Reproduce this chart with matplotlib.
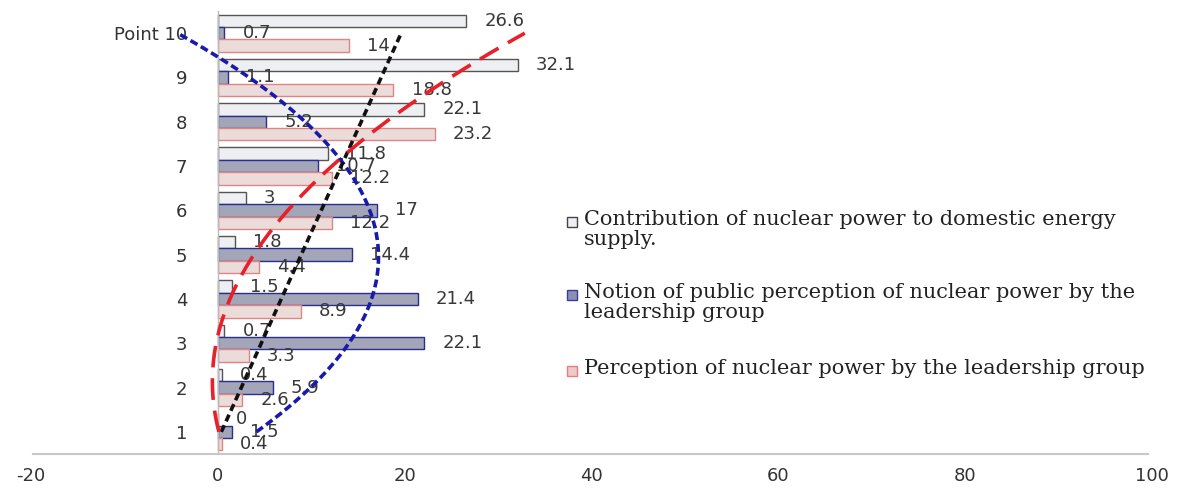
import numpy as np
import matplotlib
matplotlib.use("Agg")
import matplotlib.pyplot as plt
from matplotlib.patches import Rectangle

# ---- data ----
categories = [1, 2, 3, 4, 5, 6, 7, 8, 9, 10]
tick_labels = ["1", "2", "3", "4", "5", "6", "7", "8", "9", "Point 10"]
contribution = [0, 0.4, 0.7, 1.5, 1.8, 3, 11.8, 22.1, 32.1, 26.6]
notion = [1.5, 5.9, 22.1, 21.4, 14.4, 17, 10.7, 5.2, 1.1, 0.7]
perception = [0.4, 2.6, 3.3, 8.9, 4.4, 12.2, 12.2, 23.2, 18.8, 14]
legend_labels = [
    "Contribution of nuclear power to domestic energy\nsupply.",
    "Notion of public perception of nuclear power by the\nleadership group",
    "Perception of nuclear power by the leadership group",
]
x_ticks = [-20, 0, 20, 40, 60, 80, 100]

W, H = 1181, 490
fig = plt.figure(figsize=(W / 100, H / 100), dpi=100)
ax = fig.add_axes([31 / W, (H - 454) / H, (1152 - 31) / W, (454 - 11) / H])

y = np.array(categories, dtype=float)
bh = 0.28
label_color = "#383838"

series = [
    (contribution, +bh, "#EEEFF2", "#555555"),
    (notion, 0.0, "#A3A5B8", "#2A2E8C"),
    (perception, -bh, "#EBDCD9", "#E08585"),
]
for vals, off, fc, ec in series:
    bars = ax.barh(y + off, vals, height=bh, color=fc, edgecolor=ec,
                   linewidth=1.0, zorder=2)
    ax.bar_label(bars, labels=[f"{v:g}" for v in vals], padding=13,
                 fontsize=13, color=label_color, zorder=3)

# ---- trend lines computed from the series ----
yy = np.linspace(1, 10, 200)
c_contrib2 = np.polyfit(y, contribution, 2)
c_notion2 = np.polyfit(y, notion, 2)
c_percep1 = np.polyfit(y, perception, 1)
ax.plot(np.polyval(c_notion2, yy), yy, color="#1A1AAA", lw=2.6,
        linestyle=(0, (2.2, 1.1)), zorder=4)
ax.plot(np.polyval(c_percep1, yy), yy, color="#111111", lw=2.6,
        linestyle=(0, (2.0, 1.2)), zorder=4)
ax.plot(np.polyval(c_contrib2, yy), yy, color="#E8202A", lw=2.6,
        linestyle=(0, (6.0, 3.0)), zorder=4)

# ---- axes ----
ax.set_xlim(-20, 100)
ax.set_ylim(0.5, 10.5)
ax.set_xticks(x_ticks)
ax.set_xticklabels([str(t) for t in x_ticks])
ax.set_yticks(categories)
ax.set_yticklabels(tick_labels)
ax.tick_params(axis="x", length=0, pad=9, labelsize=13, labelcolor="#333333")
ax.tick_params(axis="y", length=0, pad=22, labelsize=13, labelcolor="#333333")
for s in ["top", "right"]:
    ax.spines[s].set_visible(False)
ax.spines["left"].set_position(("data", 0))
ax.spines["left"].set_color("#BBBBBB")
ax.spines["left"].set_linewidth(1.0)
ax.spines["bottom"].set_color("#C8C8C8")
ax.spines["bottom"].set_linewidth(1.5)
ax.spines["bottom"].set_bounds(-19.8, 99.6)

# ---- legend (manual, marker aligned with first line) ----
leg_faces = [("#EEEFF2", "#444444"), ("#8C8FB5", "#3A3E8C"), ("#F0C8C8", "#E08080")]
leg_tops = [210, 283, 359]
for (fc, ec), top, lab in zip(leg_faces, leg_tops, legend_labels):
    cy = top + 12
    fig.patches.append(Rectangle(((567) / W, (H - cy - 5) / H), 10 / W, 10 / H,
                                 transform=fig.transFigure, facecolor=fc,
                                 edgecolor=ec, linewidth=1.0))
    fig.text(584 / W, (H - top) / H, lab, ha="left", va="top",
             fontsize=15, family="DejaVu Serif", color="#222222",
             linespacing=1.05)

fig.savefig("out.png", dpi=100, facecolor="white")
